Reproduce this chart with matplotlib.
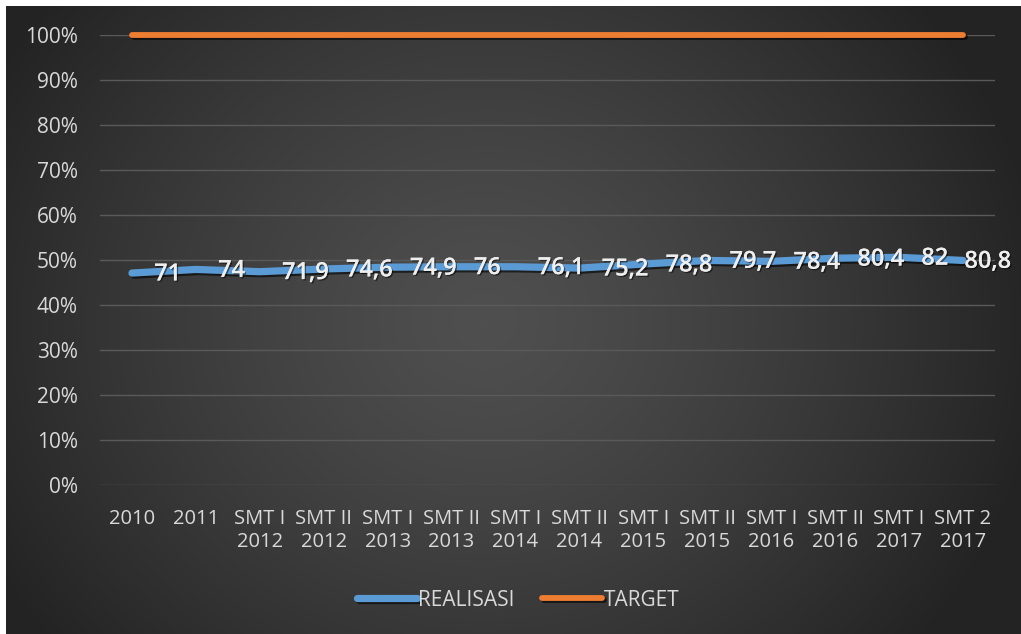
"""Realisasi vs target line chart (100% stacked look, dark Excel theme)."""
import numpy as np
import matplotlib
matplotlib.use("Agg")
import matplotlib.pyplot as plt
import matplotlib.patheffects as pe

# category labels on the x axis
periods = ["2010", "2011", "SMT I\n2012", "SMT II\n2012", "SMT I\n2013", "SMT II\n2013",
           "SMT I\n2014", "SMT II\n2014", "SMT I\n2015", "SMT II\n2015", "SMT I\n2016",
           "SMT II\n2016", "SMT I\n2017", "SMT 2\n2017"]

# plotted share of realisasi
realisasi = [0.471, 0.479, 0.474, 0.480, 0.484, 0.485, 0.485, 0.482, 0.491, 0.499,
             0.497, 0.504, 0.506, 0.499]
target = [1.0] * 14

# data labels shown next to the blue line
realisasi_labels = ["71", "74", "71,9", "74,6", "74,9", "76", "76,1", "75,2", "78,8",
                    "79,7", "78,4", "80,4", "82", "80,8"]

yticks = np.arange(0, 1.01, 0.1)

plt.rcParams['font.family'] = ['Open Sans', 'DejaVu Sans']
txt_color = '#d9d9d9'

W, H = 1021, 634
fig = plt.figure(figsize=(W / 100, H / 100), dpi=100, facecolor='white')

# background with radial gradient
bg = fig.add_axes([6 / W, 0, (W - 6) / W, (H - 6) / H])
ny, nx = 200, 320
yy, xx = np.mgrid[0:ny, 0:nx]
r = np.sqrt(((xx - nx * 0.47) / (nx * 0.55)) ** 2 + ((yy - ny * 0.5) / (ny * 0.8)) ** 2)
r = np.clip(r, 0, 1)
c = 0.31 - 0.17 * r ** 1.3
bg.imshow(np.dstack([c, c, c]), aspect='auto', extent=[0, 1, 0, 1], interpolation='bilinear')
bg.set_axis_off()

ax = fig.add_axes([100 / W, 1 - 485 / H, 895 / W, 450 / H])
ax.set_facecolor('none')
x = np.arange(len(periods))

shadow = [pe.SimpleLineShadow(offset=(1.5, -1.5), shadow_color='black', alpha=0.6), pe.Normal()]
ax.plot(x, realisasi, color='#5b9bd5', lw=5.2, solid_capstyle='round', label='REALISASI',
        path_effects=shadow, zorder=3)
ax.plot(x, target, color='#ed7d31', lw=4.2, solid_capstyle='round', label='TARGET',
        path_effects=shadow, zorder=3, clip_on=False)

for i, (xi, yi, lab) in enumerate(zip(x, realisasi, realisasi_labels)):
    # last label is pulled in so it stays inside the chart area
    dx = 1.0 if i == len(x) - 1 else 16.0
    ax.annotate(lab, (xi, yi), xytext=(dx, -1), textcoords='offset points', ha='left',
                va='center', color='#eeeeee', fontsize=17, fontweight='semibold', zorder=4,
                path_effects=[pe.withSimplePatchShadow(offset=(1, -1), shadow_rgbFace='black',
                                                       alpha=0.5), pe.Normal()])

ax.set_xlim(-0.5, len(periods) - 0.5)
ax.set_ylim(0, 1)
ax.set_yticks(yticks)
ax.set_yticklabels([f"{int(round(t * 100))}%" for t in yticks])
ax.set_xticks(x)
ax.set_xticklabels(periods, linespacing=1.25)
ax.tick_params(axis='y', length=0, pad=16, labelsize=15, labelcolor=txt_color)
ax.tick_params(axis='x', length=0, pad=17, labelsize=14.5, labelcolor=txt_color)
ax.grid(axis='y', color='#5a5a5a', lw=1)
ax.set_axisbelow(True)
for s in ax.spines.values():
    s.set_visible(False)

leg = fig.legend(loc='center', bbox_to_anchor=(518 / W, 1 - 600 / H), ncol=2, frameon=False,
                 handlelength=2.9, handletextpad=0.05, columnspacing=1.3, fontsize=15)
for t in leg.get_texts():
    t.set_color(txt_color)

fig.savefig('out.png', dpi=100, facecolor=fig.get_facecolor())
